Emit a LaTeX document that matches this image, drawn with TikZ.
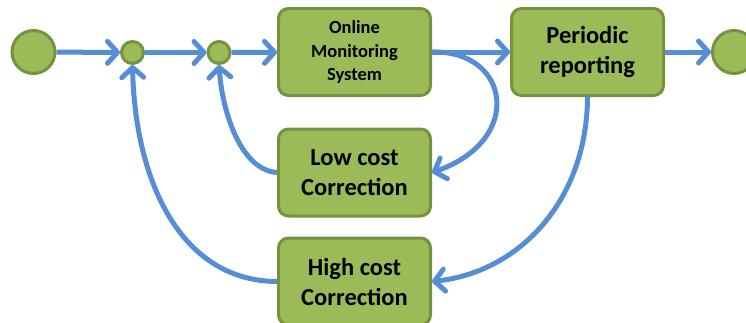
\documentclass[tikz,border=0pt]{standalone}
\usepackage{fontspec}
\setmainfont{Carlito}
\usetikzlibrary{arrows.meta}
\definecolor{boxfill}{HTML}{9BBB59}
\definecolor{boxline}{HTML}{76923C}
\definecolor{arrowblue}{HTML}{558ED5}
\begin{document}
\begin{tikzpicture}[x=1pt,y=-1pt,
  box/.style={draw=boxline, fill=boxfill, line width=3pt, rounded corners=10pt,
    minimum width=152pt, minimum height=87pt, align=center, font=\bfseries\fontsize{24.5}{30}\selectfont, inner sep=0pt},
  dot/.style={circle, draw=boxline, fill=boxfill, line width=3pt, inner sep=0pt},
  flow/.style={draw=arrowblue, line width=5pt, -{Straight Barb[length=10pt,width=22pt,round]}},
]
\useasboundingbox (0,0) rectangle (746,322);
\node[dot, minimum size=43pt] (start) at (33.5,52) {};
\node[dot, minimum size=22pt] (j1) at (132.5,52.5) {};
\node[dot, minimum size=22pt] (j2) at (219,52.5) {};
\node[box, font=\bfseries\fontsize{18.5}{23.5}\selectfont] (oms) at (354.5,52) {Online\\Monitoring\\System};
\node[box] (per) at (587.5,52) {Periodic\\reporting};
\node[dot, minimum size=43pt] (end) at (734,52) {};
\node[box] (low) at (354.5,172.5) {Low cost\\Correction};
\node[box] (high) at (354.5,281.5) {High cost\\Correction};

\draw[flow] (start) -- (j1);
\draw[flow] (j1) -- (j2);
\draw[flow] (j2) -- (oms);
\draw[flow] (oms) -- (per);
\draw[flow] (per) -- (end);
\draw[flow] (oms.east) .. controls (510,50) and (525,140) .. (low.east);
\draw[flow] (per.south) .. controls (587,200) and (520,272) .. (high.east);
\draw[flow] (low.west) .. controls (240,170) and (222,110) .. (j2.south);
\draw[flow] (high.west) .. controls (180,281) and (135,180) .. (j1.south);
\end{tikzpicture}
\end{document}
